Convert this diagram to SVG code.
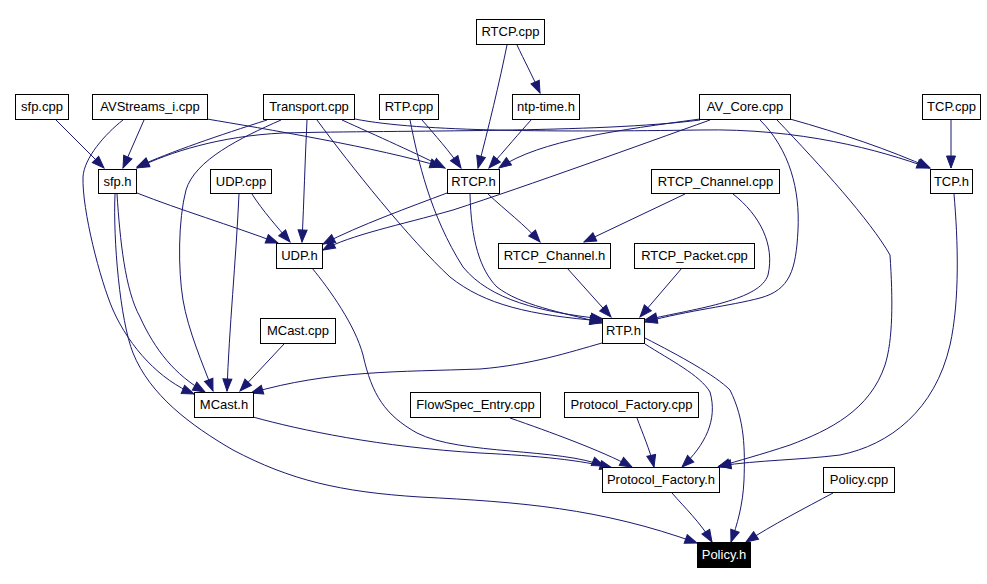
<svg xmlns="http://www.w3.org/2000/svg" width="987" height="584" viewBox="0 0 987 584">
<style>
.n rect{fill:#fff;stroke:#000;stroke-width:1}
.n text{font-family:"Liberation Sans",Arial,sans-serif;font-size:13px;fill:#000;text-anchor:middle}
#n24 rect{fill:#000}
#n24 text{fill:#fff}
#edges path{fill:none;stroke:#191970;stroke-width:1;marker-end:url(#arr)}
</style>
<defs>
<marker id="arr" markerUnits="userSpaceOnUse" viewBox="-1 -1 14 11" refX="12" refY="4.5" markerWidth="14" markerHeight="11" orient="auto">
<path d="M0,0 L12,4.5 L0,9 z" fill="#191970" stroke="#191970" stroke-width="1"/>
</marker>
</defs>
<rect width="987" height="584" fill="#fff"/>
<g id="edges">
<path d="M56,120 L104,168"/>
<path d="M144,120 L123,168"/>
<path d="M123,120 C105,134 84,158 83,177 C82,210 100,280 113,310 C130,348 160,380 194,394"/>
<path d="M207,119 C260,128 380,148 442,167"/>
<path d="M267,120 C220,135 170,152 137,167"/>
<path d="M281,120 C240,138 195,160 186,190 C178,220 178,270 183,300 C188,330 203,365 213,391"/>
<path d="M307,120 C305,160 304,200 302,242"/>
<path d="M317,120 C350,165 410,240 450,277 C485,305 530,315 602,321"/>
<path d="M342,120 C375,135 420,155 445,168"/>
<path d="M355,119 C420,132 560,132 700,130 C800,128 880,150 929,168"/>
<path d="M700,120 C600,133 400,130 283,133 C220,136 170,152 137,168"/>
<path d="M700,119 C620,130 540,140 499,168"/>
<path d="M710,120 C640,145 530,185 453,210 C400,225 350,235 323,250"/>
<path d="M760,120 C790,150 800,190 798,230 C796,270 790,290 760,298 C730,306 690,310 645,322"/>
<path d="M777,120 C820,165 870,220 890,255 C893,300 893,340 885,365 C870,410 830,430 790,445 C760,455 740,460 718,467"/>
<path d="M790,119 C840,133 890,150 930,168"/>
<path d="M951,119 L951,168"/>
<path d="M954,194 C958,240 960,300 950,345 C935,410 890,445 840,455 C800,460 760,460 719,466"/>
<path d="M422,120 C435,135 450,152 461,168"/>
<path d="M410,120 C418,160 430,215 463,267 C490,300 540,312 603,319"/>
<path d="M507,45 C500,80 488,130 478,168"/>
<path d="M517,45 C524,60 532,75 540,93"/>
<path d="M532,119 C520,132 505,150 489,168"/>
<path d="M447,193 C410,207 360,225 323,244"/>
<path d="M470,194 C471,240 480,270 497,287 C520,305 560,312 602,323"/>
<path d="M488,194 C505,210 525,225 540,242"/>
<path d="M685,194 L584,242"/>
<path d="M733,194 C760,215 775,245 768,275 C760,300 700,308 645,320"/>
<path d="M567,268 L611,317"/>
<path d="M682,268 L640,317"/>
<path d="M137,193 C180,210 230,225 278,243"/>
<path d="M117,194 C120,240 125,290 140,317 C155,350 175,375 205,392"/>
<path d="M115,194 C113,240 120,320 133,353 C150,395 190,425 233,450 C290,480 340,492 420,497 C520,502 600,508 697,543"/>
<path d="M239,194 C236,260 229,330 227,391"/>
<path d="M252,194 C262,210 278,228 290,242"/>
<path d="M284,344 L240,391"/>
<path d="M602,343 C570,352 530,365 480,369 C400,372 330,370 251,393"/>
<path d="M312,268 C330,290 355,325 363,355 C372,395 385,415 417,433 C460,455 560,448 604,466"/>
<path d="M253,417 C300,430 380,447 480,453 C540,456 580,460 612,468"/>
<path d="M510,418 C550,432 600,450 632,467"/>
<path d="M637,418 C642,432 650,450 654,467"/>
<path d="M645,344 C670,360 700,375 710,392 C718,420 705,445 682,467"/>
<path d="M645,338 C680,356 715,375 730,390 C745,420 745,450 744,480 C743,505 737,525 731,542"/>
<path d="M672,493 C685,508 700,522 712,542"/>
<path d="M833,493 C805,508 772,525 746,542"/>
</g>
<g id="n1" class="n"><rect x="15.5" y="94.5" width="53" height="25"/><text x="42" y="111">sfp.cpp</text></g>
<g id="n2" class="n"><rect x="92.5" y="94.5" width="115" height="25"/><text x="150" y="111">AVStreams_i.cpp</text></g>
<g id="n3" class="n"><rect x="263.5" y="94.5" width="91" height="25"/><text x="309" y="111">Transport.cpp</text></g>
<g id="n4" class="n"><rect x="379.5" y="94.5" width="59" height="25"/><text x="409" y="111">RTP.cpp</text></g>
<g id="n5" class="n"><rect x="476.5" y="19.5" width="68" height="25"/><text x="510.5" y="36">RTCP.cpp</text></g>
<g id="n6" class="n"><rect x="512.5" y="94.5" width="67" height="25"/><text x="546" y="111">ntp-time.h</text></g>
<g id="n7" class="n"><rect x="699.5" y="94.5" width="91" height="25"/><text x="745" y="111">AV_Core.cpp</text></g>
<g id="n8" class="n"><rect x="922.5" y="94.5" width="58" height="25"/><text x="951.5" y="111">TCP.cpp</text></g>
<g id="n9" class="n"><rect x="98.5" y="169.5" width="38" height="24"/><text x="117.5" y="186">sfp.h</text></g>
<g id="n10" class="n"><rect x="210.5" y="169.5" width="61" height="24"/><text x="241" y="186">UDP.cpp</text></g>
<g id="n11" class="n"><rect x="447.5" y="169.5" width="52" height="24"/><text x="473.5" y="186">RTCP.h</text></g>
<g id="n12" class="n"><rect x="651.5" y="169.5" width="128" height="24"/><text x="715.5" y="186">RTCP_Channel.cpp</text></g>
<g id="n13" class="n"><rect x="930.5" y="169.5" width="42" height="24"/><text x="951.5" y="186">TCP.h</text></g>
<g id="n14" class="n"><rect x="276.5" y="243.5" width="46" height="25"/><text x="299.5" y="260">UDP.h</text></g>
<g id="n15" class="n"><rect x="498.5" y="243.5" width="112" height="25"/><text x="554.5" y="260">RTCP_Channel.h</text></g>
<g id="n16" class="n"><rect x="634.5" y="243.5" width="120" height="25"/><text x="694.5" y="260">RTCP_Packet.cpp</text></g>
<g id="n17" class="n"><rect x="260.5" y="318.5" width="75" height="25"/><text x="298" y="335">MCast.cpp</text></g>
<g id="n18" class="n"><rect x="602.5" y="318.5" width="42" height="25"/><text x="623.5" y="335">RTP.h</text></g>
<g id="n19" class="n"><rect x="194.5" y="392.5" width="59" height="25"/><text x="224" y="409">MCast.h</text></g>
<g id="n20" class="n"><rect x="410.5" y="392.5" width="130" height="25"/><text x="475.5" y="409">FlowSpec_Entry.cpp</text></g>
<g id="n21" class="n"><rect x="564.5" y="392.5" width="134" height="25"/><text x="631.5" y="409">Protocol_Factory.cpp</text></g>
<g id="n22" class="n"><rect x="602.5" y="467.5" width="117" height="25"/><text x="661" y="484">Protocol_Factory.h</text></g>
<g id="n23" class="n"><rect x="823.5" y="467.5" width="71" height="25"/><text x="859" y="484">Policy.cpp</text></g>
<g id="n24" class="n"><rect x="697.5" y="542.5" width="53" height="25"/><text x="724" y="559">Policy.h</text></g>
</svg>
